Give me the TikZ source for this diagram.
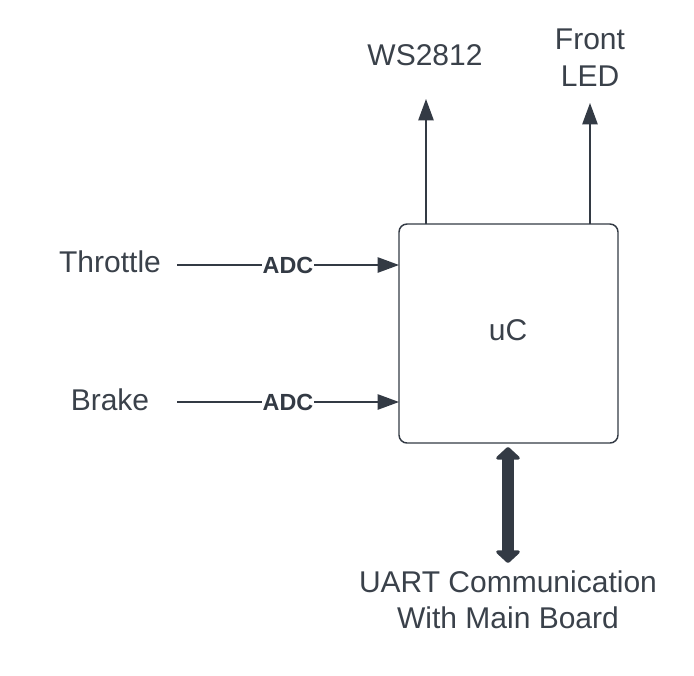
\documentclass[tikz,border=0pt]{standalone}
\usepackage{fontspec}
\setmainfont{Liberation Sans}
\usetikzlibrary{arrows.meta}
\definecolor{ink}{HTML}{333A44}
\definecolor{txt}{HTML}{3A414A}
\begin{document}
\begin{tikzpicture}[x=0.75pt,y=-0.75pt,
  lbl/.style={text=txt,font=\fontsize{22.5pt}{27pt}\selectfont,align=center,inner sep=0pt},
  adc/.style={text=ink,font=\fontsize{17.5pt}{20pt}\selectfont\bfseries,inner sep=0.5pt,fill=white},
  thin/.style={draw=ink,line width=1.1pt},
  tip/.style={-{Triangle[length=16pt,width=11.5pt]}},
  ucbox/.style={draw=ink,line width=1.1pt,rounded corners=6pt,minimum width=219*0.75pt,minimum height=219*0.75pt,inner sep=0pt}]
\useasboundingbox (0,0) rectangle (694,676);
\node[ucbox] (uc) at (508.5,333.5) {};
\node[lbl] (uct) at (508,330) {uC};
\node[lbl] (thr) at (110,262) {Throttle};
\node[lbl] (brk) at (110,400) {Brake};
\node[lbl] (ws) at (425,55) {WS2812};
\node[lbl] (fled) at (590,57.5) {Front\\[1pt]LED};
\node[lbl] (uart) at (508,599.5) {UART Communication\\[0pt]With Main Board};
\coordinate (t0) at (177,265);
\coordinate (t1) at (399,265);
\coordinate (b0) at (177,402);
\coordinate (b1) at (399,402);
\coordinate (w0) at (426,224);
\coordinate (w1) at (426,99);
\coordinate (f0) at (590,224);
\coordinate (f1) at (590,103);
\coordinate (d0) at (508,447);
\coordinate (d1) at (508,563);
\draw[thin,tip,fill=ink] (t0) -- node[adc] (adc1) {ADC} (t1);
\draw[thin,tip,fill=ink] (b0) -- node[adc] (adc2) {ADC} (b1);
\draw[thin,tip,fill=ink] (w0) -- (w1);
\draw[thin,tip,fill=ink] (f0) -- (f1);
\draw[draw=ink,line width=9pt,{Triangle[length=10pt,width=21pt,round]}-{Triangle[length=10pt,width=21pt,round]}] (d0) -- (d1);
\end{tikzpicture}
\end{document}
